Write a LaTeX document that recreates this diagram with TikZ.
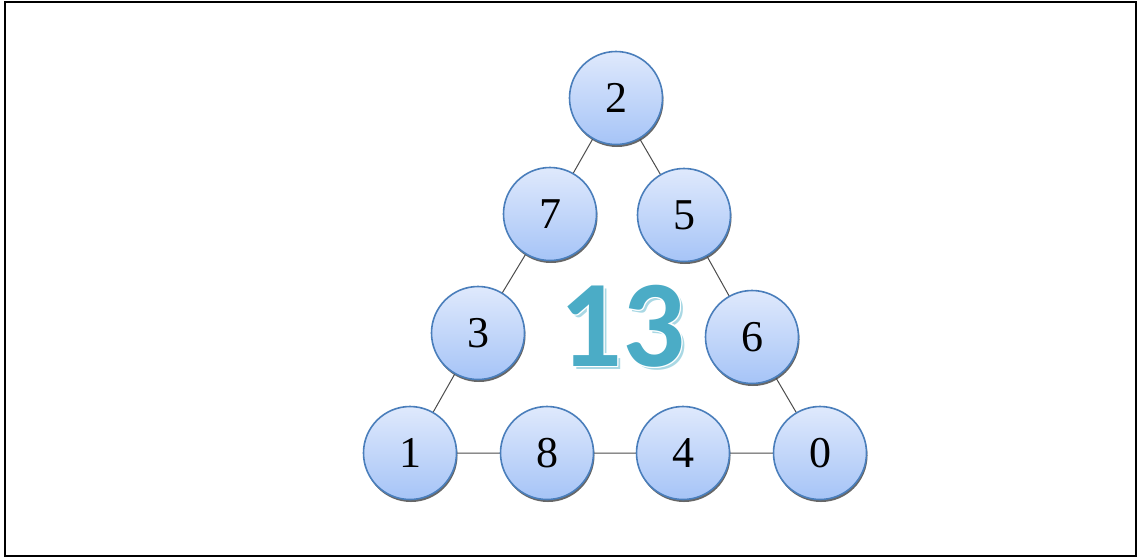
\documentclass[tikz,border=0pt]{standalone}
\usepackage{fontspec}
\usepackage{tikz}
\usepackage{xcolor}
\usetikzlibrary{shadows}
\setmainfont{Liberation Serif}
\newfontfamily\numberfont{Carlito}
\definecolor{circle-edge}{HTML}{4A7EBB}
\definecolor{circle-top}{HTML}{DFE9FC}
\definecolor{circle-bottom}{HTML}{A6C4F7}
\definecolor{teal-number}{HTML}{4BACC6}
\definecolor{teal-shadow}{HTML}{A9D8E4}
\tikzset{
    num-circle/.style = {circle, draw=circle-edge, line width=1.6pt, minimum size=93pt, inner sep=0pt,
        top color=circle-top, bottom color=circle-bottom, font=\fontsize{44}{44}\selectfont,
        drop shadow={shadow xshift=1pt, shadow yshift=-2.5pt, fill=black!70, opacity=.85}},
    link/.style = {draw=black!70, line width=1pt},
    big-number/.style = {font=\numberfont\bfseries\fontsize{124}{124}\selectfont, inner sep=0pt},
}

\begin{document}
\begin{tikzpicture}[x=1pt, y=-1pt]
\useasboundingbox (0,0) rectangle (1139,558);
\draw[line width=2pt] (5,2) rectangle (1136,556);

% connectors first, circles on top
\coordinate (p2) at (616,98);
\coordinate (p7) at (550,214);
\coordinate (p5) at (684,215);
\coordinate (p3) at (478,333);
\coordinate (p6) at (752,337);
\coordinate (p1) at (410,453);
\coordinate (p8) at (547,453);
\coordinate (p4) at (683,453);
\coordinate (p0) at (820,453);
\draw[link] (p2) -- (p7) -- (p3) -- (p1) -- (p8) -- (p4) -- (p0) -- (p6) -- (p5) -- (p2);

\foreach \name in {2,7,5,3,6,1,8,4,0}
    \node[num-circle] (c\name) at (p\name) {\name};

% the sum in the middle
\node[big-number, text=teal-shadow] at (625,329) {13};
\foreach \dx/\dy in {-1.5/0, 1.5/0, 0/-1.5, 0/1.5, -1/-1, 1/1, -1/1, 1/-1}
    \node[big-number, text=white] at (622+\dx,326+\dy) {13};
\node[big-number, text=teal-number] (sum) at (622,326) {13};
\end{tikzpicture}
\end{document}
